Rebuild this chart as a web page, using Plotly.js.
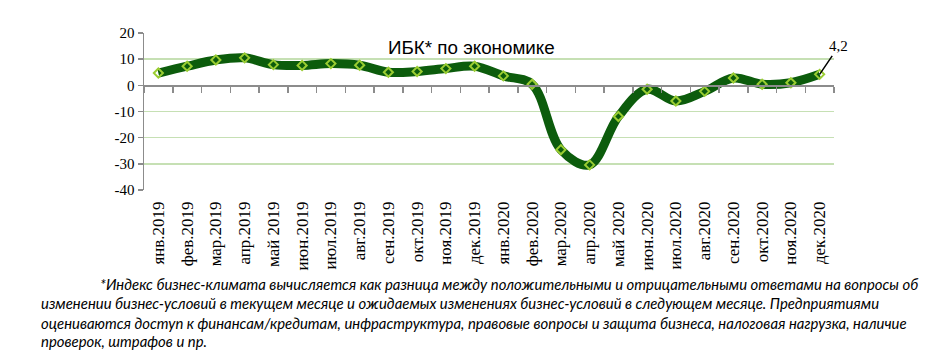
<!DOCTYPE html>
<html>
<head>
<meta charset="utf-8">
<script src="https://cdn.plot.ly/plotly-3.0.1.min.js"></script>
<style>html,body{margin:0;padding:0;background:#fff;}#chart{width:935px;height:361px;}</style>
</head>
<body>
<div id="chart"></div>
<script>
const months = ["янв.2019","фев.2019","мар.2019","апр.2019","май 2019","июн.2019","июл.2019","авг.2019","сен.2019","окт.2019","ноя.2019","дек.2019",
                "янв.2020","фев.2020","мар.2020","апр.2020","май 2020","июн.2020","июл.2020","авг.2020","сен.2020","окт.2020","ноя.2020","дек.2020"];
const ibk = [4.7, 7.3, 9.7, 10.5, 7.9, 7.6, 8.3, 7.7, 5.0, 5.3, 6.4, 7.3,
             3.6, 0.4, -24.6, -30.4, -11.9, -1.5, -6.0, -2.3, 2.8, 0.4, 1.0, 4.2];
const yTicks = [-40, -30, -20, -10, 0, 10, 20];
const chartTitle = "ИБК* по экономике";
const lastLabel = "4,2";
const footnoteLines = [
  "*Индекс бизнес-климата вычисляется как разница между положительными и отрицательными ответами на вопросы об",
  "изменении бизнес-условий в текущем месяце и ожидаемых изменениях бизнес-условий в следующем месяце. Предприятиями",
  "оцениваются доступ к финансам/кредитам, инфраструктура, правовые вопросы и защита бизнеса, налоговая нагрузка, наличие",
  "проверок, штрафов и пр."
];

const W = 935, H = 361;
const mL = 143.6, mR = 101, mT = 33, mB = 171;
const pw = W - mL - mR, ph = H - mT - mB;
const px = x => (x - mL) / pw;
const py = y => (H - mB - y) / ph;

const traces = [
  {
    x: months, y: ibk, type: 'scatter', mode: 'lines+markers',
    line: {color: '#0c5c0c', width: 9, shape: 'spline', smoothing: 1},
    marker: {symbol: 'diamond-open', size: 7, color: '#9acd32', line: {color: '#9acd32', width: 2}},
    hoverinfo: 'skip', cliponaxis: false
  },
  {
    x: months, y: ibk, xaxis: 'x2', type: 'scatter', mode: 'lines',
    line: {color: 'rgba(0,0,0,0)', width: 0}, hoverinfo: 'skip', showlegend: false
  }
];

const footAnn = footnoteLines.map((t, i) => ({
  text: t, xref: 'paper', yref: 'paper',
  x: px(i === 0 ? 98 : 39), y: py([284, 303, 323, 341][i]),
  xanchor: 'left', yanchor: 'middle', showarrow: false,
  font: {family: 'Lato, sans-serif', size: 14.9, color: '#000', style: 'italic'}
}));

const layout = {
  width: W, height: H,
  margin: {l: mL, r: mR, t: mT, b: mB, pad: 0},
  paper_bgcolor: '#fff', plot_bgcolor: '#fff',
  showlegend: false,
  xaxis: {
    type: 'category', categoryorder: 'array', categoryarray: months,
    range: [-0.5, 23.5], showline: false, showgrid: false, zeroline: false,
    ticks: '', tickangle: -90, ticklabelstandoff: 7,
    tickfont: {family: 'Liberation Serif, Times New Roman, serif', size: 17, color: '#000'}
  },
  xaxis2: {
    type: 'category', categoryorder: 'array', categoryarray: months,
    range: [-0.5, 23.5], overlaying: 'x', anchor: 'free', position: py(85),
    showline: true, linecolor: '#8c8c8c', linewidth: 1.5,
    ticks: 'outside', ticklen: 6, tickcolor: '#8c8c8c', tickwidth: 1.5,
    tickson: 'boundaries', showticklabels: false, showgrid: false, zeroline: false
  },
  yaxis: {
    range: [-40, 20], tickvals: yTicks, ticktext: yTicks.map(String),
    showline: true, linecolor: '#8c8c8c', linewidth: 1.5,
    ticks: 'outside', ticklen: 5, tickcolor: '#8c8c8c', tickwidth: 1.5,
    showgrid: true, gridcolor: '#c6e0b4', gridwidth: 1.5, zeroline: false,
    tickfont: {family: 'Liberation Serif, Times New Roman, serif', size: 15, color: '#000'}
  },
  annotations: [
    {
      text: chartTitle, xref: 'paper', yref: 'paper', x: px(471), y: py(47),
      xanchor: 'center', yanchor: 'middle', showarrow: false,
      font: {family: 'Liberation Sans, Arial, sans-serif', size: 18.8, color: '#000'}
    },
    {
      text: lastLabel, x: months[months.length - 1], y: ibk[ibk.length - 1],
      xref: 'x', yref: 'y', showarrow: true, arrowhead: 0, arrowwidth: 1.5, arrowcolor: '#000',
      ax: 19, ay: -28, standoff: 0,
      font: {family: 'Liberation Serif, Times New Roman, serif', size: 15, color: '#000'}
    }
  ].concat(footAnn)
};

Plotly.newPlot('chart', traces, layout, {staticPlot: true});
</script>
</body>
</html>
